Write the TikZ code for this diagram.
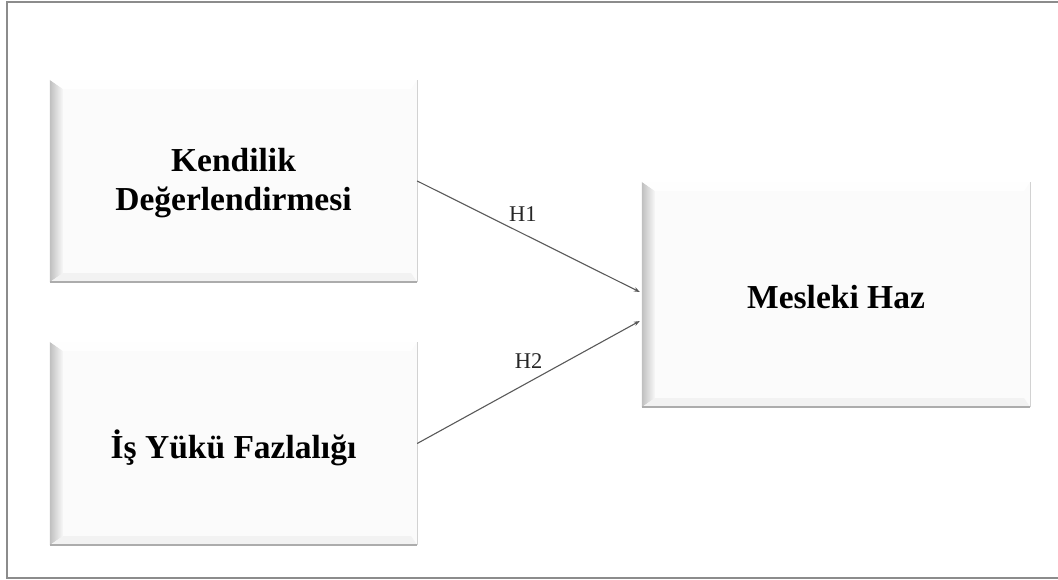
\documentclass[tikz,border=0pt]{standalone}
\usepackage{fontspec}
\setmainfont{Liberation Serif}
\usetikzlibrary{arrows.meta,calc}
\tikzset{
  varbox/.style={rectangle, fill=gray!3, inner sep=0pt, align=center},
  boxtext/.style={font=\bfseries\fontsize{33.5}{39}\selectfont, align=center, text=black},
  link/.style={draw=black!65, line width=1.1pt, -{Stealth[length=6pt,width=4.5pt]}},
  hlabel/.style={font=\fontsize{22.5}{25}\selectfont, text=black!85},
  frame/.style={draw=black!45, line width=1.4pt}
}
\newcommand\bevelbox[1]{%
  \shade[left color=gray!50, right color=gray!6]
    (#1.north west) -- (#1.south west) -- ([shift={(13pt,9pt)}]#1.south west)
    -- ([shift={(13pt,-9pt)}]#1.north west) -- cycle;
  \fill[gray!1] (#1.north west) -- ([shift={(13pt,-9pt)}]#1.north west)
    -- ([shift={(-6pt,-9pt)}]#1.north east) -- (#1.north east) -- cycle;
  \fill[gray!10] (#1.south west) -- ([shift={(13pt,9pt)}]#1.south west)
    -- ([shift={(-6pt,9pt)}]#1.south east) -- (#1.south east) -- cycle;
  \draw[gray!65, line width=2pt] (#1.south west) -- (#1.south east);
  \draw[gray!35, line width=1pt] (#1.south east) -- (#1.north east);
}
\begin{document}
\begin{tikzpicture}[x=1pt,y=1pt]
\useasboundingbox (0,0) rectangle (1058,580);
\begin{scope}
\clip (0,0) rectangle (1058,580);
\draw[frame] (7,2) rectangle (1070,578);
\end{scope}

\node[varbox, minimum width=367pt, minimum height=202pt] (k) at (233.5,399) {};
\bevelbox{k}
\node[boxtext] (kt) at ([yshift=-2pt]k.center) {Kendilik\\Değerlendirmesi};

\node[varbox, minimum width=367pt, minimum height=203pt] (i) at (233.5,136.5) {};
\bevelbox{i}
\node[boxtext] (it) at ([yshift=-4pt]i.center) {İş Yükü Fazlalığı};

\node[varbox, minimum width=388pt, minimum height=225pt] (m) at (836,285.5) {};
\bevelbox{m}
\node[boxtext] (mt) at ([yshift=-3pt]m.center) {Mesleki Haz};

\draw[link] (k.east) -- node[hlabel, pos=0.475, above=8pt] (h1) {H1} ([xshift=-2pt,yshift=2.5pt]m.west);
\draw[link] (i.east) -- node[hlabel, pos=0.5, above=10pt] (h2) {H2} ([xshift=-2pt,yshift=-26.5pt]m.west);
\end{tikzpicture}
\end{document}
